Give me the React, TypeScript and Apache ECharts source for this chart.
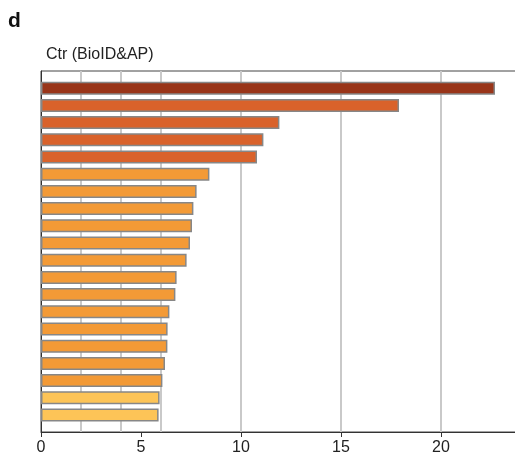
import React, { useEffect, useRef } from "react";
import * as echarts from "echarts";

const categories = [
  "Term 1", "Term 2", "Term 3", "Term 4", "Term 5",
  "Term 6", "Term 7", "Term 8", "Term 9", "Term 10",
  "Term 11", "Term 12", "Term 13", "Term 14", "Term 15",
  "Term 16", "Term 17", "Term 18", "Term 19", "Term 20",
];
const values = [
  22.7, 17.9, 11.92, 11.12, 10.8,
  8.42, 7.78, 7.62, 7.55, 7.45,
  7.28, 6.78, 6.72, 6.42, 6.33,
  6.32, 6.2, 6.07, 5.93, 5.88,
];
const barColors = [
  "#993519", "#d9622b", "#d9622b", "#d9622b", "#d9622b",
  "#f39a36", "#f39a36", "#f39a36", "#f39a36", "#f39a36",
  "#f39a36", "#f39a36", "#f39a36", "#f39a36", "#f39a36",
  "#f39a36", "#f39a36", "#f39a36", "#fdc457", "#fdc457",
];
const xTicks = { min: 0, max: 24, interval: 5 };
const gridLineValues = [2, 4, 6, 10, 15, 20];

const FONT = "Liberation Sans, Arial, Helvetica, sans-serif";

export default function App() {
  const ref = useRef<HTMLDivElement>(null);
  useEffect(() => {
    if (!ref.current) return;
    const chart = echarts.init(ref.current, undefined, { renderer: "svg" });
    const gridSeries = gridLineValues.map((v) => ({
      type: "line",
      xAxisIndex: 0,
      yAxisIndex: 0,
      z: 0,
      silent: true,
      symbol: "none",
      lineStyle: { color: "#c9c9c9", width: 2 },
      data: [[v, 0], [v, 1]],
    }));
    chart.setOption({
      animation: false,
      textStyle: { fontFamily: FONT },
      title: {
        text: "Ctr (BioID&AP)",
        left: 41,
        top: 40,
        textStyle: { fontSize: 16, fontWeight: "normal", color: "#222", fontFamily: FONT },
      },
      graphic: [
        {
          type: "text",
          left: 8,
          top: 9,
          style: { text: "d", fontSize: 21, fontWeight: "bold", fill: "#111", fontFamily: FONT },
        },
      ],
      grid: [
        {
          left: 41, right: -6, top: 71, bottom: 29,
          show: true, borderColor: "#444", borderWidth: 1, backgroundColor: "transparent",
          outerBoundsMode: "none", containLabel: false,
        },
        { left: 41, right: -6, top: 79.6, bottom: 37.4, outerBoundsMode: "none", containLabel: false },
      ],
      xAxis: [
        {
          gridIndex: 0,
          type: "value",
          min: xTicks.min,
          max: xTicks.max,
          interval: xTicks.interval,
          splitLine: { show: false },
          axisLine: { show: true, lineStyle: { color: "#333", width: 1 } },
          axisTick: { show: true, length: 5, lineStyle: { color: "#333" } },
          axisLabel: { fontSize: 16, color: "#222", margin: 6, fontFamily: FONT, showMaxLabel: false },
          name: "−log{sub|10}(P)",
          nameLocation: "middle",
          nameGap: 33,
          nameTextStyle: {
            fontSize: 16,
            color: "#222",
            fontFamily: FONT,
            rich: { sub: { fontSize: 11, verticalAlign: "bottom", padding: [8, 0, 0, 0], color: "#222", fontFamily: FONT } },
          },
        },
        { gridIndex: 1, type: "value", min: xTicks.min, max: xTicks.max, show: false, splitLine: { show: false } },
      ],
      yAxis: [
        {
          gridIndex: 0,
          type: "value",
          min: 0,
          max: 1,
          axisLine: { show: true, lineStyle: { color: "#333", width: 1 } },
          axisTick: { show: false },
          axisLabel: { show: false },
          splitLine: { show: false },
        },
        { gridIndex: 1, type: "category", inverse: true, data: categories, show: false },
      ],
      series: [
        ...gridSeries,
        {
          type: "bar",
          xAxisIndex: 1,
          yAxisIndex: 1,
          z: 10,
          barWidth: 13,
          data: values.map((v, i) => ({
            value: v,
            itemStyle: { color: barColors[i], borderColor: "#878787", borderWidth: 1.5 },
          })),
        },
      ],
    });
    return () => chart.dispose();
  }, []);
  return <div ref={ref} style={{ position: "fixed", left: 0, top: 0, width: 515, height: 461 }} />;
}
